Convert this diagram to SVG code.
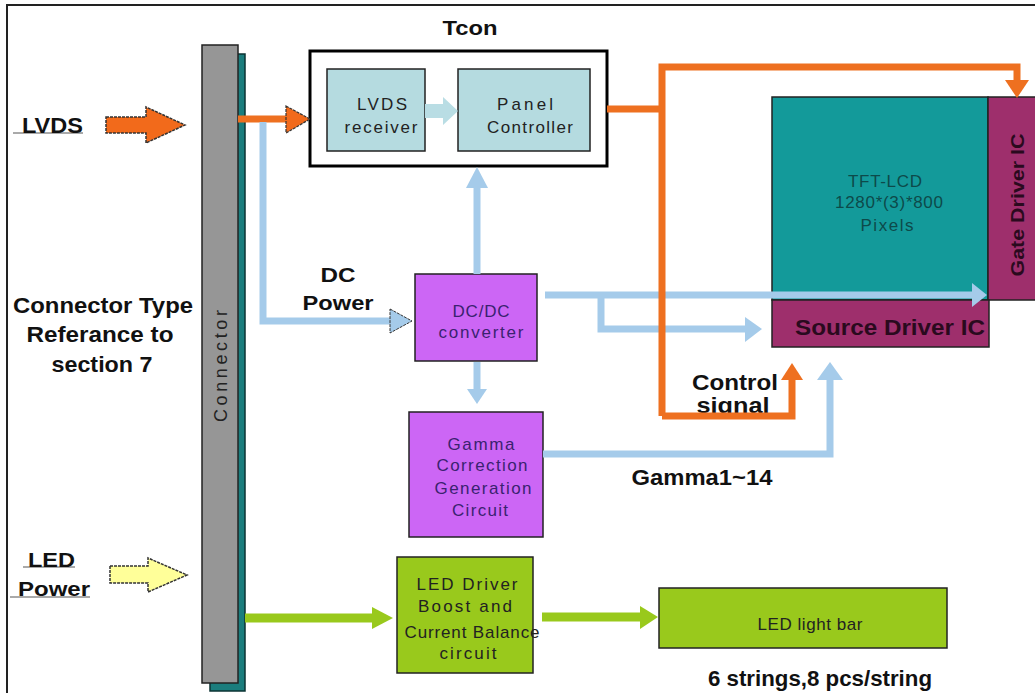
<svg xmlns="http://www.w3.org/2000/svg" width="1035" height="693" viewBox="0 0 1035 693">
<style>
.lbl{font-family:"Liberation Sans",Arial,sans-serif;font-weight:bold;fill:#111;}
.box{font-family:"Liberation Sans",Arial,sans-serif;font-size:17px;text-anchor:middle;}
.blue{stroke:#a5cbea;fill:none;stroke-width:7;}
.bluehead{fill:#a5cbea;}
.orange{stroke:#ee7020;fill:none;stroke-width:7;}
.orangehead{fill:#ee7020;}
.green{stroke:#99c91c;fill:none;stroke-width:9;}
.greenhead{fill:#99c91c;}
</style>
<rect width="1035" height="693" fill="#ffffff"/>
<path d="M7 693 V5 H1035" fill="none" stroke="#222" stroke-width="2"/>

<g id="connector">
<rect x="210" y="54" width="35" height="637" fill="#1a7d7d" stroke="#0b3333" stroke-width="1.5"/>
<rect x="202" y="45" width="36" height="638" fill="#969696" stroke="#222" stroke-width="1.5"/>
<text class="box" transform="translate(227 366) rotate(-90)" style="font-size:18px" textLength="112" fill="#222">Connector</text>
</g>

<g id="lvds-input">
<line x1="13" y1="133" x2="83" y2="133" stroke="#555" stroke-width="1"/>
<text class="lbl" x="22" y="133" font-size="22" textLength="61" lengthAdjust="spacingAndGlyphs">LVDS</text>
<polygon points="106,117 146,117 146,107 185,125 146,143 146,133 106,133" fill="#f26a1b" stroke="#333" stroke-width="1.5" stroke-dasharray="3,1"/>
</g>

<g id="led-power-input">
<line x1="23" y1="567" x2="75" y2="567" stroke="#555" stroke-width="1"/>
<text class="lbl" x="28" y="567" font-size="21" textLength="47" lengthAdjust="spacingAndGlyphs">LED</text>
<line x1="10" y1="597" x2="90" y2="597" stroke="#555" stroke-width="1"/>
<text class="lbl" x="18" y="596" font-size="21" textLength="72" lengthAdjust="spacingAndGlyphs">Power</text>
<polygon points="110,566 148,566 148,558 187,575 148,592 148,583 110,583" fill="#ffff99" stroke="#333" stroke-width="1.5" stroke-dasharray="3,1"/>
</g>

<g id="connector-note">
<text class="lbl" x="103" y="313" font-size="22" text-anchor="middle" textLength="180" lengthAdjust="spacingAndGlyphs">Connector Type</text>
<text class="lbl" x="100" y="342" font-size="22" text-anchor="middle" textLength="147" lengthAdjust="spacingAndGlyphs">Referance to</text>
<text class="lbl" x="102" y="372" font-size="22" text-anchor="middle" textLength="101" lengthAdjust="spacingAndGlyphs">section 7</text>
</g>

<g id="tcon">
<text class="lbl" x="470" y="35" font-size="21" text-anchor="middle" textLength="55" lengthAdjust="spacingAndGlyphs">Tcon</text>
<rect x="310" y="51" width="297" height="115" fill="#ffffff" stroke="#000" stroke-width="3"/>
</g>

<g id="lvds-receiver">
<rect x="327" y="69" width="98" height="82" fill="#b5dbe0" stroke="#222" stroke-width="1.5"/>
<text class="box" x="382" y="110" fill="#222" textLength="50">LVDS</text>
<text class="box" x="381" y="133" fill="#222" textLength="73">receiver</text>
</g>

<g id="panel-controller">
<rect x="458" y="69" width="132" height="82" fill="#b5dbe0" stroke="#222" stroke-width="1.5"/>
<text class="box" x="525" y="110" fill="#222" textLength="56">Panel</text>
<text class="box" x="530" y="133" fill="#222" textLength="86">Controller</text>
</g>

<g id="dcdc">
<rect x="415" y="274" width="122" height="87" fill="#cc66f5" stroke="#222" stroke-width="1.5"/>
<text class="box" x="481" y="317" fill="#3a2270" textLength="57">DC/DC</text>
<text class="box" x="481" y="338" fill="#3a2270" textLength="85">converter</text>
</g>

<g id="gamma">
<rect x="409" y="412" width="134" height="125" fill="#cc66f5" stroke="#222" stroke-width="1.5"/>
<text class="box" x="481" y="450" fill="#3a2270" textLength="67">Gamma</text>
<text class="box" x="482" y="471" fill="#3a2270" textLength="91">Correction</text>
<text class="box" x="483" y="494" fill="#3a2270" textLength="97">Generation</text>
<text class="box" x="480" y="516" fill="#3a2270" textLength="56">Circuit</text>
</g>

<g id="tft-lcd">
<rect x="772" y="97" width="216" height="203" fill="#139a9a" stroke="#222" stroke-width="1.5"/>
<text class="box" x="885" y="187" fill="#0d4a4a" textLength="74">TFT-LCD</text>
<text class="box" x="889" y="208" fill="#0d4a4a" textLength="108">1280*(3)*800</text>
<text class="box" x="887" y="231" fill="#0d4a4a" textLength="53">Pixels</text>
</g>

<g id="gate-driver">
<rect x="988" y="97" width="50" height="203" fill="#9e2f6c" stroke="#222" stroke-width="1.5"/>
<text class="lbl" transform="translate(1024 205) rotate(-90)" font-size="19" text-anchor="middle" textLength="143" lengthAdjust="spacingAndGlyphs" style="fill:#2a0a1e">Gate Driver IC</text>
</g>

<g id="source-driver">
<rect x="772" y="300" width="217" height="47" fill="#9e2f6c" stroke="#222" stroke-width="1.5"/>
<text class="lbl" x="890" y="335" font-size="22" text-anchor="middle" textLength="190" lengthAdjust="spacingAndGlyphs" style="fill:#2a0a1e">Source Driver IC</text>
</g>

<g id="led-driver">
<rect x="397" y="557" width="136" height="116" fill="#99c91c" stroke="#222" stroke-width="1.5"/>
<text class="box" x="467" y="590" fill="#222" textLength="101">LED Driver</text>
<text class="box" x="465" y="612" fill="#222" textLength="94">Boost and</text>
<text class="box" x="472" y="638" fill="#222" textLength="135">Current Balance</text>
<text class="box" x="468" y="659" fill="#222" textLength="57">circuit</text>
</g>

<g id="led-light-bar">
<rect x="659" y="588" width="288" height="60" fill="#99c91c" stroke="#222" stroke-width="1.5"/>
<text class="box" x="810" y="630" fill="#222" textLength="105">LED light bar</text>
<text class="lbl" x="820" y="686" font-size="22" text-anchor="middle" textLength="224" lengthAdjust="spacingAndGlyphs">6 strings,8 pcs/string</text>
</g>

<g id="labels">
<text class="lbl" x="338" y="282" font-size="21" text-anchor="middle" textLength="35" lengthAdjust="spacingAndGlyphs">DC</text>
<text class="lbl" x="338" y="310" font-size="21" text-anchor="middle" textLength="71" lengthAdjust="spacingAndGlyphs">Power</text>
<text class="lbl" x="735" y="390" font-size="22" text-anchor="middle" textLength="86" lengthAdjust="spacingAndGlyphs">Control</text>
<text class="lbl" x="733" y="413" font-size="22" text-anchor="middle" textLength="73" lengthAdjust="spacingAndGlyphs">signal</text>
<text class="lbl" x="702" y="485" font-size="22" text-anchor="middle" textLength="141" lengthAdjust="spacingAndGlyphs">Gamma1~14</text>
</g>

<g id="connectors">
<line x1="238" y1="119" x2="290" y2="119" class="orange"/>
<polygon points="286,106 310,119 286,133" fill="#f26a1b" stroke="#333" stroke-width="1.2" stroke-dasharray="3,1"/>
<polygon points="425,104 443,104 443,97 458,111 443,125 443,118 425,118" fill="#b9dde4"/>
<polyline points="263,122 263,321 392,321" class="blue"/>
<polygon points="390,309 412,321 390,333" fill="#a5cbea" stroke="#333" stroke-width="1" stroke-dasharray="3,1"/>
<line x1="477" y1="274" x2="477" y2="186" class="blue"/>
<polygon points="466,188 477,167 488,188" class="bluehead"/>
<line x1="477" y1="362" x2="477" y2="390" class="blue"/>
<polygon points="467,389 477,404 487,389" class="bluehead"/>
<line x1="545" y1="295" x2="972" y2="295" class="blue"/>
<polygon points="972,283 987,295 972,307" class="bluehead"/>
<polyline points="601,295 601,329 746,329" class="blue"/>
<polygon points="745,317 762,329 745,342" class="bluehead"/>
<polyline points="543,454 830,454 830,378" class="blue"/>
<polygon points="817,380 830,362 843,380" class="bluehead"/>
<polyline points="607,109 662,109" class="orange"/>
<polyline points="662,416 662,67 1017,67 1017,82" class="orange"/>
<polygon points="1005,80 1017,98 1029,80" class="orangehead"/>
<polyline points="662,416 792,416 792,378" class="orange"/>
<polygon points="781,380 792,363 803,380" class="orangehead"/>
<line x1="245" y1="618" x2="374" y2="618" class="green"/>
<polygon points="372,607 393,618 372,629" class="greenhead"/>
<line x1="542" y1="617" x2="642" y2="617" class="green"/>
<polygon points="640,606 658,617 640,629" class="greenhead"/>
</g>
</svg>
